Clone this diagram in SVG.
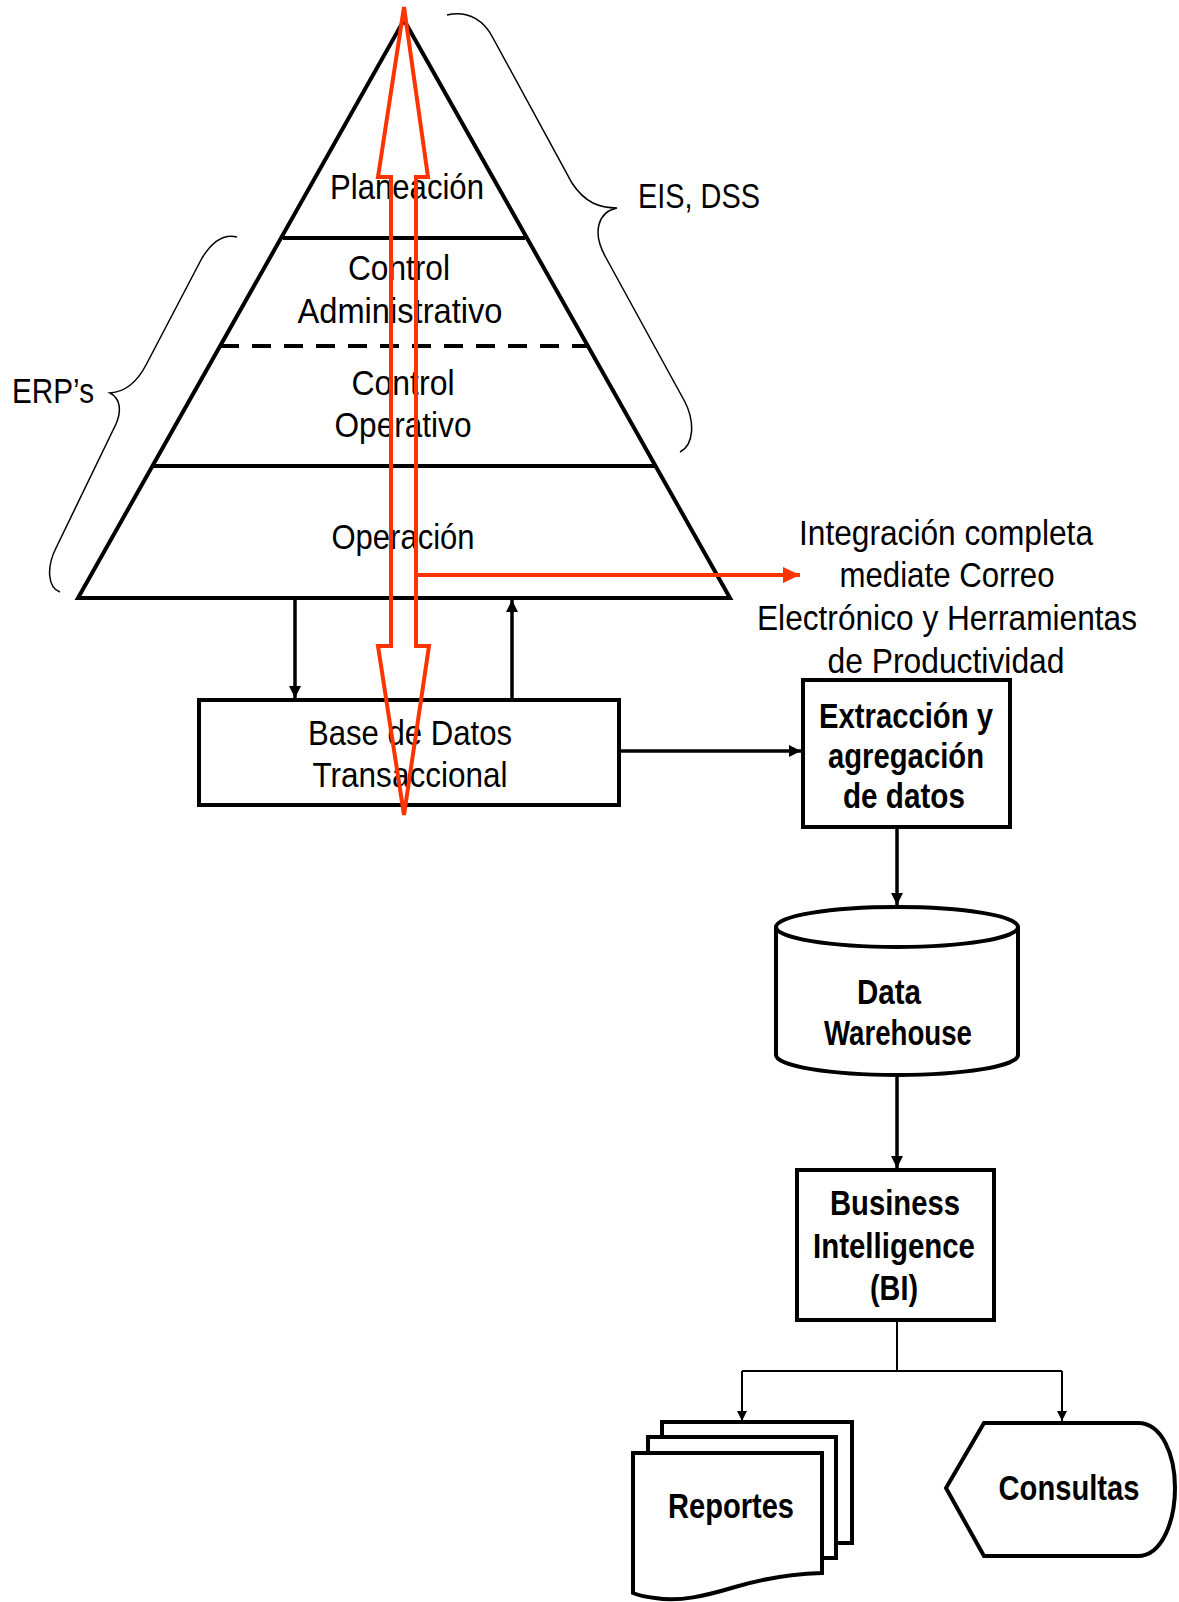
<svg xmlns="http://www.w3.org/2000/svg" width="1179" height="1602" viewBox="0 0 1179 1602">
  <style>
    .bg { fill: #ffffff; }
    .txt { font-family: "Liberation Sans", Arial, sans-serif; font-size: 35px; fill: #000; }
    .b { font-weight: bold; }
    .shape { fill: #ffffff; stroke: #000; stroke-width: 4; }
    .tier { fill: none; stroke: #000; stroke-width: 4; }
    .dash { fill: none; stroke: #000; stroke-width: 4; stroke-dasharray: 19 13; }
    .brace { fill: none; stroke: #000; stroke-width: 1.5; }
    .link { fill: none; stroke: #000; stroke-width: 3.5; }
    .thin { fill: none; stroke: #000; stroke-width: 2; }
    .flow { fill: none; stroke: #ff3300; stroke-width: 4; stroke-linejoin: miter; }
  </style>
  <defs>
    <marker id="ah" viewBox="0 0 12 12" refX="12" refY="6" markerWidth="12" markerHeight="12" markerUnits="userSpaceOnUse" orient="auto">
      <path d="M0,0 L12,6 L0,12 z" fill="#000"/>
    </marker>
    <marker id="ahs" viewBox="0 0 10 10" refX="10" refY="5" markerWidth="10" markerHeight="10" markerUnits="userSpaceOnUse" orient="auto">
      <path d="M0,0 L10,5 L0,10 z" fill="#000"/>
    </marker>
    <marker id="ahr" viewBox="0 0 17 16" refX="17" refY="8" markerWidth="17" markerHeight="16" markerUnits="userSpaceOnUse" orient="auto">
      <path d="M0,0 L17,8 L0,16 z" fill="#ff3300"/>
    </marker>
  </defs>

  <rect class="bg" x="0" y="0" width="1179" height="1602"/>

  <!-- management pyramid -->
  <g id="pyramid">
    <polygon class="tier" points="404,20 730,598 78,598"/>
    <line class="tier" x1="283" y1="238" x2="525" y2="238"/>
    <line class="dash" x1="220" y1="346" x2="587" y2="346"/>
    <line class="tier" x1="153" y1="466" x2="655" y2="466"/>
    <text class="txt" x="407" y="199" text-anchor="middle" textLength="154" lengthAdjust="spacingAndGlyphs">Planeación</text>
    <text class="txt" x="399" y="280" text-anchor="middle" textLength="102" lengthAdjust="spacingAndGlyphs">Control</text>
    <text class="txt" x="400" y="323" text-anchor="middle" textLength="205" lengthAdjust="spacingAndGlyphs">Administrativo</text>
    <text class="txt" x="403" y="395" text-anchor="middle" textLength="103" lengthAdjust="spacingAndGlyphs">Control</text>
    <text class="txt" x="403" y="437" text-anchor="middle" textLength="137" lengthAdjust="spacingAndGlyphs">Operativo</text>
    <text class="txt" x="403" y="549" text-anchor="middle" textLength="143" lengthAdjust="spacingAndGlyphs">Operación</text>
  </g>

  <!-- braces grouping the system types -->
  <g id="erp">
    <path class="brace" d="M237,237 C222,233 210,245 202,258 L146,365 C136,384 124,392 110,393 C120,398 122,410 116,424 L56,548 C46,568 48,588 60,592"/>
    <text class="txt" x="12" y="403" textLength="82" lengthAdjust="spacingAndGlyphs">ERP’s</text>
  </g>
  <g id="eis-dss">
    <path class="brace" d="M447,15 C470,10 485,22 493,38 L572,183 C585,203 600,208 617,208 C598,212 592,232 605,256 L685,402 C695,422 694,445 680,452"/>
    <text class="txt" x="638" y="208" textLength="122" lengthAdjust="spacingAndGlyphs">EIS, DSS</text>
  </g>

  <g id="integracion">
    <text class="txt" x="946" y="545" text-anchor="middle" textLength="294" lengthAdjust="spacingAndGlyphs">Integración completa</text>
    <text class="txt" x="947" y="587" text-anchor="middle" textLength="215" lengthAdjust="spacingAndGlyphs">mediate Correo</text>
    <text class="txt" x="947" y="630" text-anchor="middle" textLength="380" lengthAdjust="spacingAndGlyphs">Electrónico y Herramientas</text>
    <text class="txt" x="946" y="673" text-anchor="middle" textLength="237" lengthAdjust="spacingAndGlyphs">de Productividad</text>
  </g>

  <!-- black flow connectors -->
  <g id="connectors">
    <line class="link" x1="295" y1="598" x2="295" y2="698" marker-end="url(#ah)"/>
    <line class="link" x1="512" y1="698" x2="512" y2="600" marker-end="url(#ah)"/>
    <line class="link" x1="619" y1="751" x2="801" y2="751" marker-end="url(#ah)"/>
    <line class="link" x1="897" y1="827" x2="897" y2="905" marker-end="url(#ah)"/>
    <line class="link" x1="897" y1="1075" x2="897" y2="1168" marker-end="url(#ah)"/>
    <polyline class="thin" points="897,1320 897,1371"/>
    <polyline class="thin" points="742,1371 1062,1371"/>
    <line class="thin" x1="742" y1="1371" x2="742" y2="1421" marker-end="url(#ahs)"/>
    <line class="thin" x1="1062" y1="1371" x2="1062" y2="1421" marker-end="url(#ahs)"/>
  </g>

  <g id="base-datos">
    <rect class="shape" x="199" y="700" width="420" height="105"/>
    <text class="txt" x="410" y="745" text-anchor="middle" textLength="204" lengthAdjust="spacingAndGlyphs">Base de Datos</text>
    <text class="txt" x="410" y="787" text-anchor="middle" textLength="195" lengthAdjust="spacingAndGlyphs">Transaccional</text>
  </g>

  <g id="extraccion">
    <rect class="shape" x="803" y="680" width="207" height="147"/>
    <text class="txt b" x="906" y="728" text-anchor="middle" textLength="174" lengthAdjust="spacingAndGlyphs">Extracción y</text>
    <text class="txt b" x="906" y="768" text-anchor="middle" textLength="156" lengthAdjust="spacingAndGlyphs">agregación</text>
    <text class="txt b" x="904" y="808" text-anchor="middle" textLength="122" lengthAdjust="spacingAndGlyphs">de datos</text>
  </g>

  <g id="data-warehouse">
    <path class="shape" d="M776,927 L776,1055 A121,20 0 0 0 1018,1055 L1018,927 A121,20 0 0 0 776,927 Z"/>
    <path class="tier" d="M776,927 A121,20 0 0 0 1018,927"/>
    <text class="txt b" x="889" y="1004" text-anchor="middle" textLength="64" lengthAdjust="spacingAndGlyphs">Data</text>
    <text class="txt b" x="898" y="1045" text-anchor="middle" textLength="148" lengthAdjust="spacingAndGlyphs">Warehouse</text>
  </g>

  <g id="business-intelligence">
    <rect class="shape" x="797" y="1170" width="197" height="150"/>
    <text class="txt b" x="895" y="1215" text-anchor="middle" textLength="130" lengthAdjust="spacingAndGlyphs">Business</text>
    <text class="txt b" x="894" y="1258" text-anchor="middle" textLength="162" lengthAdjust="spacingAndGlyphs">Intelligence</text>
    <text class="txt b" x="894" y="1300" text-anchor="middle" textLength="48" lengthAdjust="spacingAndGlyphs">(BI)</text>
  </g>

  <g id="reportes">
    <rect class="shape" x="662" y="1422" width="190" height="121"/>
    <rect class="shape" x="648" y="1437" width="188" height="121"/>
    <path class="shape" d="M633,1453 L822,1453 L822,1573 C790,1574 765,1578 735,1587 C705,1596 680,1602 655,1598 C645,1597 638,1595 633,1593 Z"/>
    <text class="txt b" x="731" y="1518" text-anchor="middle" textLength="126" lengthAdjust="spacingAndGlyphs">Reportes</text>
  </g>

  <g id="consultas">
    <path class="shape" d="M946,1488 L984,1423 L1138,1423 C1162,1423 1175,1455 1175,1488 C1175,1521 1162,1556 1138,1556 L984,1556 Z"/>
    <text class="txt b" x="1069" y="1500" text-anchor="middle" textLength="141" lengthAdjust="spacingAndGlyphs">Consultas</text>
  </g>

  <!-- information flow through the levels -->
  <g id="flujo">
    <polygon class="flow" points="404,7 428,177 416,177 416,646 429,646 404,815 378,646 391,646 391,177 378,177"/>
    <line class="flow" x1="416" y1="575" x2="800" y2="575" marker-end="url(#ahr)"/>
  </g>
</svg>
